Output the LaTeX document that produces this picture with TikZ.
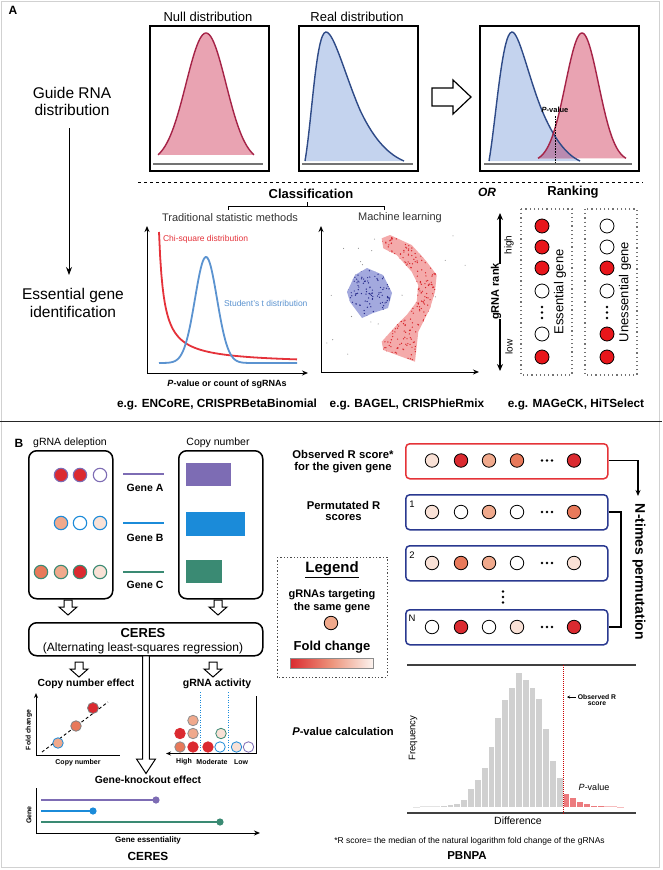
\documentclass[tikz,border=0pt]{standalone}
\usepackage{fontspec}
\setmainfont{Liberation Sans}
\usetikzlibrary{arrows.meta}
\newcommand\myfs[1]{\fontsize{#1}{#1}\selectfont}
\definecolor{pkfill}{HTML}{E9A3B2}
\definecolor{pkline}{HTML}{A52347}
\definecolor{blfill}{HTML}{C4D3EE}
\definecolor{blline}{HTML}{2E4A87}
\definecolor{ovl}{HTML}{B98AB0}
\definecolor{chired}{HTML}{E5323A}
\definecolor{tblue}{HTML}{5B93D0}
\definecolor{rankred}{HTML}{E8161B}
\definecolor{mlblue}{HTML}{A3A9DE}
\definecolor{mldot}{HTML}{2B2F8E}
\definecolor{mlred}{HTML}{F4AAAA}
\definecolor{mlreddot}{HTML}{D8262C}
\definecolor{geneA}{HTML}{7D6CB4}
\definecolor{geneB}{HTML}{1B8BD9}
\definecolor{geneC}{HTML}{3A8A73}
\definecolor{fcred}{HTML}{DB2A30}
\definecolor{fcsal}{HTML}{E8795A}
\definecolor{fclsal}{HTML}{F0A98C}
\definecolor{fcpale}{HTML}{F9E1D6}
\definecolor{rowblue}{HTML}{2A3990}
\definecolor{rowred}{HTML}{E53338}
\definecolor{histgray}{HTML}{D0D0D0}
\definecolor{histred}{HTML}{EC7B7E}
\definecolor{txtgray}{HTML}{333333}
\tikzset{
  declare function={gss(\x,\m,\s)=exp(-0.5*((\x-\m)/\s)*((\x-\m)/\s));},
  txt/.style={inner sep=0pt, outer sep=0pt},
  plotbox/.style={draw, line width=1.6pt, inner sep=0pt},
  fcc/.style={circle, inner sep=0pt, minimum size=13.4pt, line width=1.1pt},
  rkc/.style={circle, draw=black, line width=0.8pt, inner sep=0pt, minimum size=14pt},
  rowc/.style={circle, draw=black, line width=0.8pt, inner sep=0pt, minimum size=13.5pt},
  smc/.style={circle, inner sep=0pt, minimum size=10.5pt, line width=0.8pt},
  rbox/.style={draw, rounded corners=8pt, line width=1.5pt, inner sep=0pt},
  rowbox/.style={draw, rounded corners=4pt, line width=1.5pt, inner sep=0pt, minimum width=202pt, minimum height=35pt, anchor=north west},
  hollow/.style={draw=black, fill=white, line width=1pt, line join=miter},
  rankbox/.style={draw=black!55, line width=1.1pt, dash pattern=on 1.2pt off 3pt},
  hollowdown/.pic={\draw[hollow] (-4,0) -- (4,0) -- (4,7) -- (9,7) -- (0,15) -- (-9,7) -- (-4,7) -- cycle;},
}
\begin{document}
\begin{tikzpicture}[x=1pt,y=-1pt]
\useasboundingbox (0,0) rectangle (662,870);
\fill[white] (0,0) rectangle (662,870);
\draw[black!18, line width=0.8pt] (1.5,1.5) rectangle (659,867.5);
\draw[line width=1.8pt, black!85] (0,421.5) -- (662,421.5);

% ================= PANEL A =================
\node[txt, font=\bfseries\myfs{12}] (labA) at (13,10) {A};
\node[txt, font=\myfs{15.5}] (guide1) at (72,93) {Guide RNA};
\node[txt, font=\myfs{15.5}] (guide2) at (72,110) {distribution};
\node[txt, font=\myfs{15.5}] (ess1) at (73,295) {Essential gene};
\node[txt, font=\myfs{15.5}] (ess2) at (73,312) {identification};
\coordinate (gtop) at (69,128);
\coordinate (gbot) at (69,275);
\draw[-{Stealth[length=8pt,width=6pt]}, line width=1pt] (gtop) -- (gbot);

\node[txt, font=\myfs{13}] (tnull) at (208,17) {Null distribution};
\node[txt, font=\myfs{13}] (treal) at (357,17) {Real distribution};

% null box
\fill[pkfill] plot[domain=158:254, samples=70] (\x,{162-129*gss(\x,206,20)}) -- cycle;
\draw[pkline, line width=1.4pt] plot[domain=158:254, samples=70] (\x,{162-129*gss(\x,206,20)});
\draw[black!55, line width=1.2pt] (153,164) -- (263,164);
\node[plotbox, minimum width=119pt, minimum height=145pt, anchor=north west] (nullbox) at (149,25) {};

% real box
\fill[blfill] (305,161) .. controls (312,120) and (316,32) .. (326,32) .. controls (334,32) and (345,75) .. (360,110) .. controls (375,142) and (390,155) .. (404,161) -- cycle;
\draw[blline, line width=1.4pt] (305,161) .. controls (312,120) and (316,32) .. (326,32) .. controls (334,32) and (345,75) .. (360,110) .. controls (375,142) and (390,155) .. (404,161);
\draw[black!55, line width=1.2pt] (302,164) -- (413,164);
\node[plotbox, minimum width=119pt, minimum height=145pt, anchor=north west] (realbox) at (298,25) {};

% hollow arrow
\draw[hollow, line width=1.2pt] (432,88) -- (453,88) -- (453,80) -- (471,97) -- (453,114) -- (453,106) -- (432,106) -- cycle;

% combined box
\fill[blfill] (489,161) .. controls (496,120) and (502,32) .. (512,32) .. controls (519,32) and (528,75) .. (541,108) .. controls (554,140) and (567,155) .. (580,161) -- cycle;
\fill[pkfill] plot[domain=538:626, samples=70] (\x,{162-129*gss(\x,582,16.5)}) -- cycle;
\begin{scope}
  \clip plot[domain=538:626, samples=70] (\x,{162-129*gss(\x,582,16.5)}) -- cycle;
  \fill[ovl] (489,161) .. controls (496,120) and (502,32) .. (512,32) .. controls (519,32) and (528,75) .. (541,108) .. controls (554,140) and (567,155) .. (580,161) -- cycle;
\end{scope}
\draw[blline, line width=1.4pt] (489,161) .. controls (496,120) and (502,32) .. (512,32) .. controls (519,32) and (528,75) .. (541,108) .. controls (554,140) and (567,155) .. (580,161);
\draw[pkline, line width=1.4pt] plot[domain=538:626, samples=70] (\x,{162-129*gss(\x,582,16.5)});
\draw[black!55, line width=1.2pt] (484,164) -- (632,164);
\node[txt, font=\bfseries\myfs{7.5}] (pval) at (555,110) {\textit{P}-value};
\coordinate (pv1) at (555,116);
\coordinate (pv2) at (555,164);
\draw[black, line width=0.6pt, dash pattern=on 1.5pt off 1.2pt] (pv1) -- (pv2);
\node[plotbox, minimum width=159pt, minimum height=145pt, anchor=north west] (combbox) at (479,25) {};

% dashed separator
\draw[line width=1pt, dash pattern=on 3pt off 3pt] (138,182) -- (643,182);
\node[txt, font=\bfseries\myfs{13}] (tclass) at (311,194) {Classification};
\node[txt, font=\bfseries\itshape\myfs{12}] (tor) at (487,192) {OR};
\node[txt, font=\bfseries\myfs{13}] (trank) at (573,192) {Ranking};
\draw[line width=0.9pt] (228,209.5) -- (228,206) -- (384,206) -- (384,209.5);
\draw[line width=0.9pt] (307,206) -- (307,202);
\node[txt, font=\myfs{11}, text=txtgray] (ttrad) at (230,218) {Traditional statistic methods};
\node[txt, font=\myfs{11}, text=txtgray] (tml) at (400,218) {Machine learning};

% statistic plot
\draw[{Stealth[length=6pt,width=5pt]}-{Stealth[length=6pt,width=5pt]}, line width=1pt] (147,226) -- (147,373) -- (308,373);
\draw[chired, line width=1.8pt] plot[domain=159:297, samples=120] (\x,{364-660/(\x-154)});
\draw[tblue, line width=1.8pt] plot[domain=159:297, samples=140] (\x,{363-106*gss(\x,206,11)});
\node[txt, font=\myfs{8.5}, text=chired, anchor=west] (tchi) at (163,239) {Chi-square distribution};
\node[txt, font=\myfs{8.5}, text=tblue, anchor=west] (tstud) at (224,303) {Student's t distribution};
\node[txt, font=\bfseries\myfs{9}] (txlab) at (227,384) {\textit{P}-value or count of sgRNAs};

% machine learning plot
\draw[{Stealth[length=6pt,width=5pt]}-{Stealth[length=6pt,width=5pt]}, line width=1pt] (321,226) -- (321,372) -- (479,372);
\pgfmathsetseed{11}
\foreach \i in {1,...,26} {\fill[black!45] ({326+148*rnd},{230+136*rnd}) circle (0.55pt);}
\fill[mlblue] (347,292) -- (355,275) -- (367,268) -- (383,275) -- (392,293) -- (388,308) -- (373,313) -- (362,318) -- (350,302) -- cycle;
\begin{scope}
  \clip (347,292) -- (355,275) -- (367,268) -- (383,275) -- (392,293) -- (388,308) -- (373,313) -- (362,318) -- (350,302) -- cycle;
  \foreach \i in {1,...,150} {\fill[mldot] ({346+47*rnd},{267+52*rnd}) circle (0.7pt);}
\end{scope}
\fill[mlred] (381.7,238.3) -- (390,235) -- (411.7,245) -- (426.7,261.7) -- (436.7,275) -- (435,291.7) -- (430,308.3) -- (418.3,331.7) -- (415,361.7) -- (383.3,350) -- (381.7,341.7) -- (396.7,325) -- (406.7,315) -- (416.7,301.7) -- (418.3,285) -- (411.7,271.7) -- (396.7,255) -- (383.3,248.3) -- cycle;
\begin{scope}
  \clip (381.7,238.3) -- (390,235) -- (411.7,245) -- (426.7,261.7) -- (436.7,275) -- (435,291.7) -- (430,308.3) -- (418.3,331.7) -- (415,361.7) -- (383.3,350) -- (381.7,341.7) -- (396.7,325) -- (406.7,315) -- (416.7,301.7) -- (418.3,285) -- (411.7,271.7) -- (396.7,255) -- (383.3,248.3) -- cycle;
  \foreach \i in {1,...,430} {\fill[mlreddot] ({380+58*rnd},{234+129*rnd}) circle (0.7pt);}
\end{scope}

% ranking
\node[txt, font=\bfseries\myfs{11}, rotate=90] (trankl) at (496,291.5) {gRNA rank};
\coordinate (rk1) at (500,264);
\coordinate (rk2) at (500,213);
\coordinate (rk3) at (500,319);
\coordinate (rk4) at (500,371);
\draw[-{Stealth[length=7pt,width=6pt]}, line width=1.2pt] (rk1) -- (rk2);
\draw[-{Stealth[length=7pt,width=6pt]}, line width=1.2pt] (rk3) -- (rk4);
\node[txt, font=\myfs{10}, rotate=90] (thigh) at (509,245) {high};
\node[txt, font=\myfs{10}, rotate=90] (tlow) at (509,347) {low};
\draw[rankbox] (521,209) rectangle (572,375);
\draw[rankbox] (585,209) rectangle (637,375);
\foreach \c/\y [count=\k] in {rankred/226, rankred/247, rankred/268, white/291, white/334, rankred/357}
  {\node[rkc, fill=\c] (e\k) at (542,\y) {};}
\foreach \c/\y [count=\k] in {white/226, white/247, rankred/268, white/291, rankred/334, rankred/357}
  {\node[rkc, fill=\c] (u\k) at (607,\y) {};}
\foreach \d in {-5.5,0,5.5} {\fill ({542},{312.5+\d}) circle (1.4pt); \fill ({607},{312.5+\d}) circle (1.4pt);}
\node[txt, font=\myfs{13}, rotate=90] (tess) at (560,292) {Essential gene};
\node[txt, font=\myfs{13}, rotate=90] (tuness) at (625,292) {Unessential gene};

\node[txt, font=\bfseries\myfs{11.8}] (eg1) at (217,404) {e.g. ENCoRE, CRISPRBetaBinomial};
\node[txt, font=\bfseries\myfs{11.8}] (eg2) at (407,404) {e.g. BAGEL, CRISPhieRmix};
\node[txt, font=\bfseries\myfs{11.8}] (eg3) at (576,404) {e.g. MAGeCK, HiTSelect};

% ================= PANEL B =================
\node[txt, font=\bfseries\myfs{12}] (labB) at (19,443) {B};
\node[txt, font=\myfs{10.5}] (tdel) at (70,443) {gRNA deleption};
\node[txt, font=\myfs{10.5}] (tcopy) at (218,443) {Copy number};
\node[rbox, minimum width=84pt, minimum height=148pt, anchor=north west] (delbox) at (28,450) {};
\node[rbox, minimum width=84pt, minimum height=148pt, anchor=north west] (copybox) at (178,450) {};

\node[fcc, fill=fcred, draw=geneA] (a1) at (61,475) {};
\node[fcc, fill=fcred, draw=geneA] (a2) at (80,475) {};
\node[fcc, fill=white, draw=geneA] (a3) at (100,475) {};
\node[fcc, fill=fclsal, draw=geneB] (b1) at (61,523) {};
\node[fcc, fill=white, draw=geneB] (b2) at (80,523) {};
\node[fcc, fill=fcpale, draw=geneB] (b3) at (100,523) {};
\node[fcc, fill=fcsal, draw=geneC] (c1) at (41,572) {};
\node[fcc, fill=fclsal, draw=geneC] (c2) at (61,572) {};
\node[fcc, fill=fcred, draw=geneC] (c3) at (80,572) {};
\node[fcc, fill=fcpale, draw=geneC] (c4) at (100,572) {};

\draw[geneA, line width=2pt] (123,474) -- (164,474);
\draw[geneB, line width=2pt] (123,523) -- (164,523);
\draw[geneC, line width=2pt] (123,572) -- (164,572);
\node[txt, font=\bfseries\myfs{10.5}] (tga) at (145,488) {Gene A};
\node[txt, font=\bfseries\myfs{10.5}] (tgb) at (145,538) {Gene B};
\node[txt, font=\bfseries\myfs{10.5}] (tgc) at (145,585) {Gene C};
\fill[geneA] (186,463) rectangle (231,486);
\fill[geneB] (186,512) rectangle (245,536);
\fill[geneC] (186,560) rectangle (222,583);

\pic at (68,600) {hollowdown};
\pic at (218,600) {hollowdown};
\node[rbox, minimum width=234pt, minimum height=33pt, anchor=north west] (ceresbox) at (28,622) {};
\node[txt, font=\bfseries\myfs{13}, anchor=base] (tceres) at (143,637) {CERES};
\node[txt, font=\myfs{12}, anchor=base] (talt) at (143,651) {(Alternating least-squares regression)};
\pic at (79,662) {hollowdown};
\pic at (213,662) {hollowdown};
\draw[hollow] (142.7,655.8) -- (149.3,655.8) -- (149.3,759) -- (155.5,759) -- (146,773.5) -- (136.5,759) -- (142.7,759) -- cycle;

\node[txt, font=\bfseries\myfs{10.3}] (tcne) at (86,684) {Copy number effect};
\node[txt, font=\bfseries\myfs{10.5}] (tact) at (217,684) {gRNA activity};

% copy number plot
\draw[{Stealth[length=5pt,width=4pt]}-, line width=1pt] (36,693) -- (36,755) -- (120,755);
\draw[line width=0.9pt, dash pattern=on 3pt off 2.5pt] (42,752) -- (108,702);
\node[smc, fill=fclsal, draw=geneB] (cp1) at (58,743) {};
\node[smc, fill=fcsal, draw=black!50] (cp2) at (76,726) {};
\node[smc, fill=fcred, draw=black!50, minimum size=11pt] (cp3) at (93,708) {};
\node[txt, font=\bfseries\myfs{6.8}, rotate=90] (tfold) at (29,730) {Fold change};
\node[txt, font=\bfseries\myfs{7}] (tcn) at (78,763) {Copy number};

% gRNA activity plot
\draw[-{Stealth[length=5pt,width=4pt]}, line width=1pt] (256,696) -- (256,753.5) -- (166,753.5);
\draw[geneB, line width=0.6pt, dash pattern=on 1pt off 1.5pt] (200,692) -- (200,752);
\draw[geneB, line width=0.6pt, dash pattern=on 1pt off 1.5pt] (228,692) -- (228,752);
\node[smc, fill=fcsal, draw=black!45] (g1) at (180,747) {};
\node[smc, fill=fcred, draw=fcred] (g2) at (193,747) {};
\node[smc, fill=fcred, draw=fcred] (g3) at (208,747) {};
\node[smc, fill=white, draw=geneB] (g4) at (220,747) {};
\node[smc, fill=fcpale, draw=geneB] (g5) at (236.5,747) {};
\node[smc, fill=white, draw=geneA] (g6) at (248.5,747) {};
\node[smc, fill=fcred, draw=fcred] (g7) at (180,733.5) {};
\node[smc, fill=fclsal, draw=black!45] (g8) at (193,733.5) {};
\node[smc, fill=fcpale, draw=geneC] (g9) at (221,733.5) {};
\node[smc, fill=fclsal, draw=black!45] (g10) at (193,720.5) {};
\node[txt, font=\bfseries\myfs{7}] (thi) at (184,762) {High};
\node[txt, font=\bfseries\myfs{7}] (tmod) at (212,762) {Moderate};
\node[txt, font=\bfseries\myfs{7}] (tlo) at (241,762) {Low};

\node[txt, font=\bfseries\myfs{10.4}] (tgko) at (148,780) {Gene-knockout effect};
% gene knockout plot
\draw[-{Stealth[length=6pt,width=5pt]}, line width=1pt] (36,788) -- (36,833) -- (260,833);
\draw[geneA, line width=2.5pt] (41,800) -- (156,800);
\fill[geneA] (156,800) circle (3.6pt);
\draw[geneB, line width=2.5pt] (41,811) -- (93,811);
\fill[geneB] (93,811) circle (3.6pt);
\draw[geneC, line width=2.5pt] (41,822) -- (220,822);
\fill[geneC] (220,822) circle (3.6pt);
\node[txt, font=\bfseries\myfs{7}, rotate=90] (tgene) at (29,815) {Gene};
\node[txt, font=\bfseries\myfs{8}] (tgess) at (148,840) {Gene essentiality};
\node[txt, font=\bfseries\myfs{11.8}] (tceres2) at (148,856) {CERES};

% ---- PBNPA ----
\node[txt, font=\bfseries\myfs{11.3}] (tobs1) at (343,454) {Observed R score*};
\node[txt, font=\bfseries\myfs{11.3}] (tobs2) at (343,468) {for the given gene};
\node[txt, font=\bfseries\myfs{11.3}] (tperm1) at (343.5,505) {Permutated R};
\node[txt, font=\bfseries\myfs{11.3}] (tperm2) at (343.5,518) {scores};

\node[rowbox, draw=rowred] (rowobs) at (405,443) {};
\node[rowbox, draw=rowblue] (row1) at (405,494) {};
\node[rowbox, draw=rowblue] (row2) at (405,545) {};
\node[rowbox, draw=rowblue] (rowN) at (405,609) {};
\foreach \c/\x [count=\k] in {fcpale/432, fcred/461, fclsal/489, fcsal/517, fcred/574}
  {\node[rowc, fill=\c] (o\k) at (\x,460.5) {};}
\foreach \c/\x [count=\k] in {fcpale/432, white/461, fclsal/489, white/517, fcsal/574}
  {\node[rowc, fill=\c] (p\k) at (\x,512) {};}
\foreach \c/\x [count=\k] in {fcpale/432, fcsal/461, fclsal/489, white/517, fcpale/574}
  {\node[rowc, fill=\c] (q\k) at (\x,563) {};}
\foreach \c/\x [count=\k] in {white/432, fcred/461, white/489, fcpale/517, fcred/574}
  {\node[rowc, fill=\c] (n\k) at (\x,627) {};}
\foreach \y in {460.5,512,563,627} {\foreach \d in {-5,0,5} {\fill ({547+\d},\y) circle (1.3pt);}}
\foreach \d in {-5.5,0,5.5} {\fill (503,{597+\d}) circle (1.3pt);}
\node[txt, font=\myfs{9.5}] (t1) at (412,504) {1};
\node[txt, font=\myfs{9.5}] (t2) at (412,555) {2};
\node[txt, font=\myfs{9.5}] (tN) at (412,618) {N};

\coordinate (pa) at (638,460.5);
\coordinate (pb) at (638,496);
\draw[-{Stealth[length=6pt,width=5pt]}, line width=1.2pt] (rowobs.east |- pa) -- (pa) -- (pb);
\coordinate (br1) at (621,512);
\coordinate (br2) at (621,627);
\draw[line width=1.2pt] (row1.east |- br1) -- (br1) -- (br2) -- (rowN.east |- br2);
\node[txt, font=\bfseries\myfs{14}, rotate=-90] (tntimes) at (639,572) {N-times permutation};

% legend
\draw[black!70, line width=0.9pt, dash pattern=on 1.3pt off 2pt] (277,557) rectangle (387,677);
\node[txt, font=\bfseries\myfs{15}] (tleg) at (332,570) {\underline{Legend}};
\node[txt, font=\bfseries\myfs{11}] (tleg1) at (332,595) {gRNAs targeting};
\node[txt, font=\bfseries\myfs{11}] (tleg2) at (332,608) {the same gene};
\node[rowc, fill=fclsal] (legc) at (331,623) {};
\node[txt, font=\bfseries\myfs{13}] (tfc) at (332,647) {Fold change};
\shade[left color=fcred, right color=fcpale!40, middle color=fcsal!80] (290,658) rectangle (373,668);
\draw[black!45, line width=0.4pt] (290,658) rectangle (373,668);

% histogram
\node[txt, font=\bfseries\myfs{11.2}] (tpcalc) at (343,731.5) {\textit{P}-value calculation};
\draw[line width=2pt, black!75] (407,665) -- (636,665);
\foreach \t [count=\i from -4] in {806.6,806.4,806,805.6} {\fill[histgray!60] ({440+6.82*\i},807) rectangle ({440+6.82*(\i+1)},\t);}
\foreach \t [count=\i from 0] in {805,804,802.7,799.3,788.3,779.3,766.7,746,716.7,699.3,686.7,671.7,679.3,687.3,698.3,728.3,760,777.3}
  {\filldraw[fill=histgray, draw=white, line width=0.3pt] ({440+6.82*\i},807) rectangle ({440+6.82*(\i+1)},\t);}
\foreach \t [count=\i from 18] in {792.7,797.3,800.7,803.3,804.7,805.3}
  {\filldraw[fill=histred, draw=white, line width=0.3pt] ({440+6.82*\i},807) rectangle ({440+6.82*(\i+1)},\t);}
\foreach \t [count=\i from 24] in {805.8,806.3,806.6} {\fill[histred!50] ({440+6.82*\i},807) rectangle ({440+6.82*(\i+1)},\t);}
\draw[line width=2pt, black!75] (407,813) -- (636,813);
\coordinate (obsT) at (563,665);
\coordinate (obsB) at (563,815);
\draw[red!80!black, line width=0.6pt, dash pattern=on 1pt off 1pt] (obsT) -- (obsB);
\node[txt, font=\bfseries\myfs{6.8}] (tobsr1) at (597,697) {Observed R};
\node[txt, font=\bfseries\myfs{6.8}] (tobsr2) at (597,704) {score};
\draw[-{Stealth[length=3pt,width=3pt]}, line width=0.8pt] (tobsr1.west) ++(-2,0) -- (567,697);
\node[txt, font=\myfs{9}] (thp) at (594,787) {\textit{P}-value};
\node[txt, font=\myfs{9.5}, rotate=90] (tfreq) at (413,738) {Frequency};
\node[txt, font=\myfs{10.5}] (tdiff) at (518,821) {Difference};
\node[txt, font=\myfs{8.5}] (tfoot) at (469.5,841) {*R  score= the median of the natural logarithm fold change of the gRNAs};
\node[txt, font=\bfseries\myfs{11.5}] (tpbnpa) at (467,856) {PBNPA};
\end{tikzpicture}
\end{document}
